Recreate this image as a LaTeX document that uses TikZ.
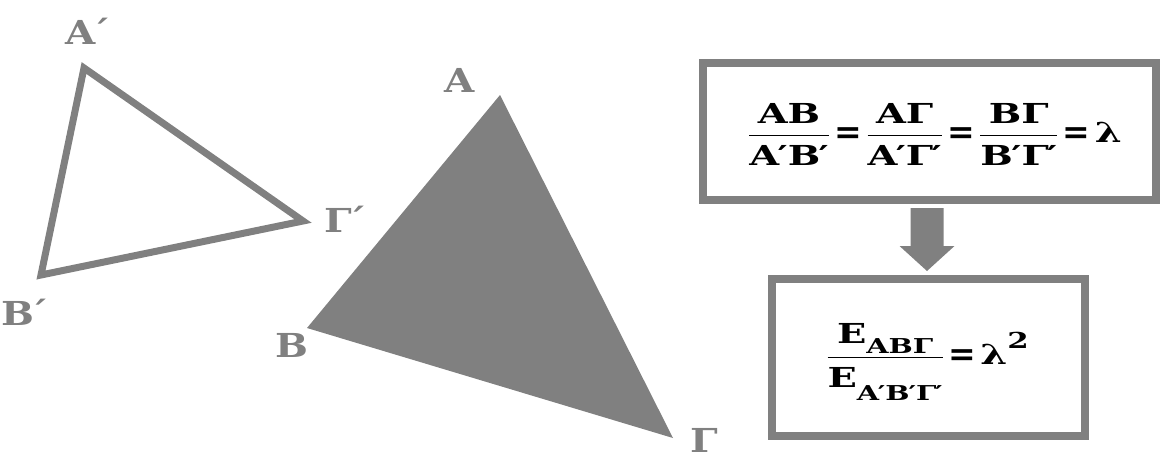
\RequirePackage{fix-cm}
\documentclass[tikz,border=0pt]{standalone}
\usepackage{amsmath}
\usepackage{fontspec}
\newfontfamily\lblfont[FakeStretch=1.18]{DejaVu Serif}
\newfontfamily\frmfont[FakeStretch=1.4]{DejaVu Serif}
\newfontfamily\eqfont{DejaVu Serif}
\usetikzlibrary{calc}
\definecolor{gr}{HTML}{808080}
\tikzset{
  lbl/.style={text=gr, font=\lblfont\fontsize{33}{38}\selectfont\bfseries, inner sep=0pt},
  fbox/.style={draw=gr, line width=8pt, inner sep=0pt},
  frm/.style={inner sep=0pt, anchor=base, font=\frmfont\fontsize{27.5}{32}\selectfont\bfseries},
  tri/.style={draw=gr, line width=7pt, line join=miter}
}
\newcommand{\pr}{\kern-0.06em′}
\newcommand{\ac}{\kern-0.14em´}
\newcommand{\eq}{\mathrel{\vcenter{\hbox{\eqfont\fontsize{33}{38}\selectfont\kern-0.1em\raisebox{-2pt}{=}\kern-0.1em}}}}
\newcommand{\den}[1]{\mbox{\rule{0pt}{27pt}#1}}
\newcommand{\sub}[1]{\mbox{\fontsize{20.5}{24}\selectfont\bfseries #1}}
\newcommand{\sqd}{\mbox{\fontsize{22}{26}\selectfont\bfseries 2}}
\begin{document}
\begin{tikzpicture}[x=1pt,y=-1pt]
\useasboundingbox (0,0) rectangle (1160,451);
% small triangle
\coordinate (Ap) at (84,68);
\coordinate (Bp) at (41,275);
\coordinate (Gp) at (303,221);
\draw[tri] (Ap) -- (Bp) -- (Gp) -- cycle;
\node[lbl] (lAp) at (88.5,31) {A\ac};
\node[lbl] (lBp) at (25,312) {B\ac};
\node[lbl] (lGp) at (345.5,219) {Γ\ac};
% big triangle
\coordinate (A) at (500,95);
\coordinate (B) at (307,328);
\coordinate (G) at (673,438);
\fill[gr] (A) -- (B) -- (G) -- cycle;
\node[lbl] (lA) at (460,80.5) {A};
\node[lbl] (lB) at (292,345) {B};
\node[lbl, anchor=north west] (lG) at (690,428) {Γ};
% boxes
\node[fbox, minimum width=453pt, minimum height=137pt] (b1) at (929.5,131.5) {};
\node[fbox, minimum width=313pt, minimum height=157pt] (b2) at (928.5,357.5) {};
\node[frm] (f1) at (935,142)
  {$\dfrac{\mbox{AB}}{\den{A\pr B\pr}}\eq\dfrac{\mbox{AΓ}}{\den{A\pr Γ\pr}}\eq\dfrac{\mbox{BΓ}}{\den{B\pr Γ\pr}}\eq\mbox{λ}$};
\node[frm] (f2) at (927.5,364)
  {$\dfrac{\mbox{E\raisebox{-10pt}{\sub{ABΓ}}}}{\den{E\raisebox{-13pt}{\sub{A\pr B\pr Γ\pr}}}}\eq\mbox{λ\raisebox{16pt}{\sqd}}$};
% arrow
\coordinate (at) at ($(b1.south)+(-2.5,4)$);
\coordinate (ab) at ($(b1.south)+(-2.5,42)$);
\coordinate (tip) at ($(b1.south)+(-2.5,67)$);
\fill[gr] ($(at)+(-16.5,0)$) -- ($(ab)+(-16.5,0)$) -- ($(ab)+(-27.5,0)$) -- (tip)
  -- ($(ab)+(27.5,0)$) -- ($(ab)+(16.5,0)$) -- ($(at)+(16.5,0)$) -- cycle;
\end{tikzpicture}
\end{document}
